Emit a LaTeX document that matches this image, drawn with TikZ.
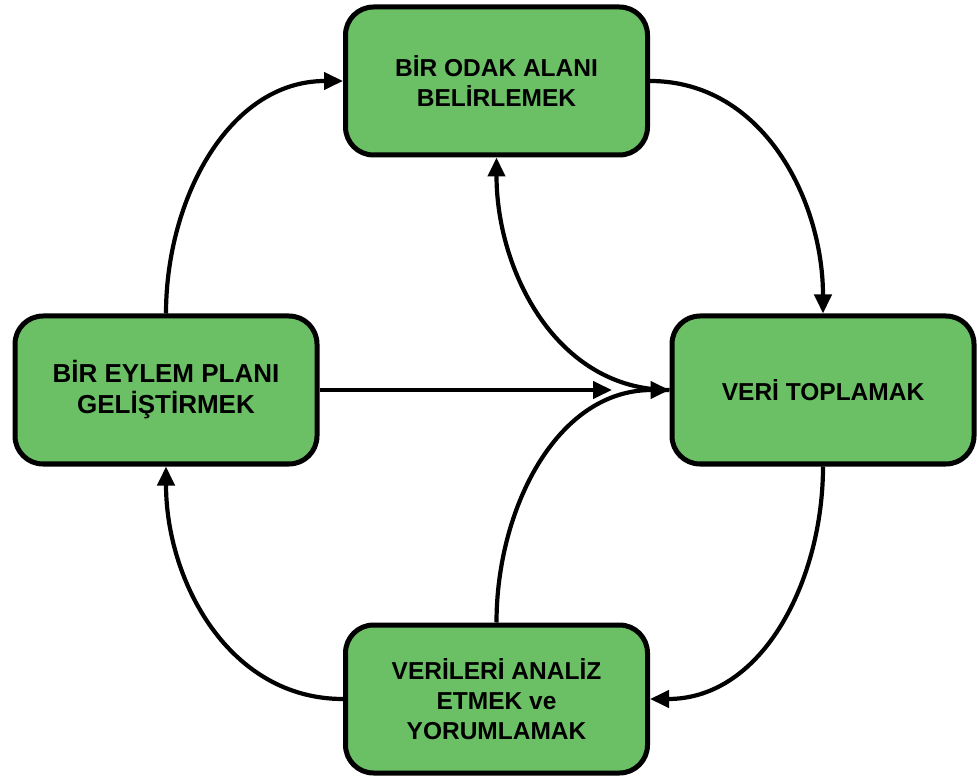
\documentclass[tikz,border=0pt]{standalone}
\usepackage{fontspec}
\setmainfont{Liberation Sans}
\usetikzlibrary{arrows.meta}
\definecolor{boxgreen}{RGB}{107,191,101}
\begin{document}
\begin{tikzpicture}[x=1pt,y=1pt,
  stage/.style={draw=black, fill=boxgreen, line width=5pt, rounded corners=28pt,
    minimum width=302pt, minimum height=148pt, align=center, inner sep=0pt,
    font=\bfseries\fontsize{24.5}{30}\selectfont, text=black},
  flow/.style={line width=4.2pt, -{Triangle[length=19pt,width=17pt]}}
]
\useasboundingbox (0,0) rectangle (977,780);

% the four stages of the cycle
\node[stage] (T) at (496.5,699) {BİR ODAK ALANI\\BELİRLEMEK};
\node[stage, font=\bfseries\fontsize{26}{31}\selectfont] (L) at (166,390) {BİR EYLEM PLANI\\GELİŞTİRMEK};
\node[stage] (R) at (823,390) {VERİ TOPLAMAK};
\node[stage] (B) at (496.5,81) {VERİLERİ ANALİZ\\ETMEK ve\\YORUMLAMAK};

% free end of the straight arrow from the action plan
\coordinate (M) at (612,390);

% outer cycle
\draw[flow] (L.north) to[out=90,in=180] (T.west);
\draw[flow] (T.east) to[out=0,in=90] (R.north);
\draw[flow] (R.south) to[out=-90,in=0] (B.east);
\draw[flow] (B.west) to[out=180,in=-90] (L.south);

% inner links
\draw[flow] (L.east) -- (M);
\draw[flow] (B.north) to[out=90,in=180] (R.west);
\draw[flow] (R.west) to[out=180,in=-90] (T.south);
\end{tikzpicture}
\end{document}
